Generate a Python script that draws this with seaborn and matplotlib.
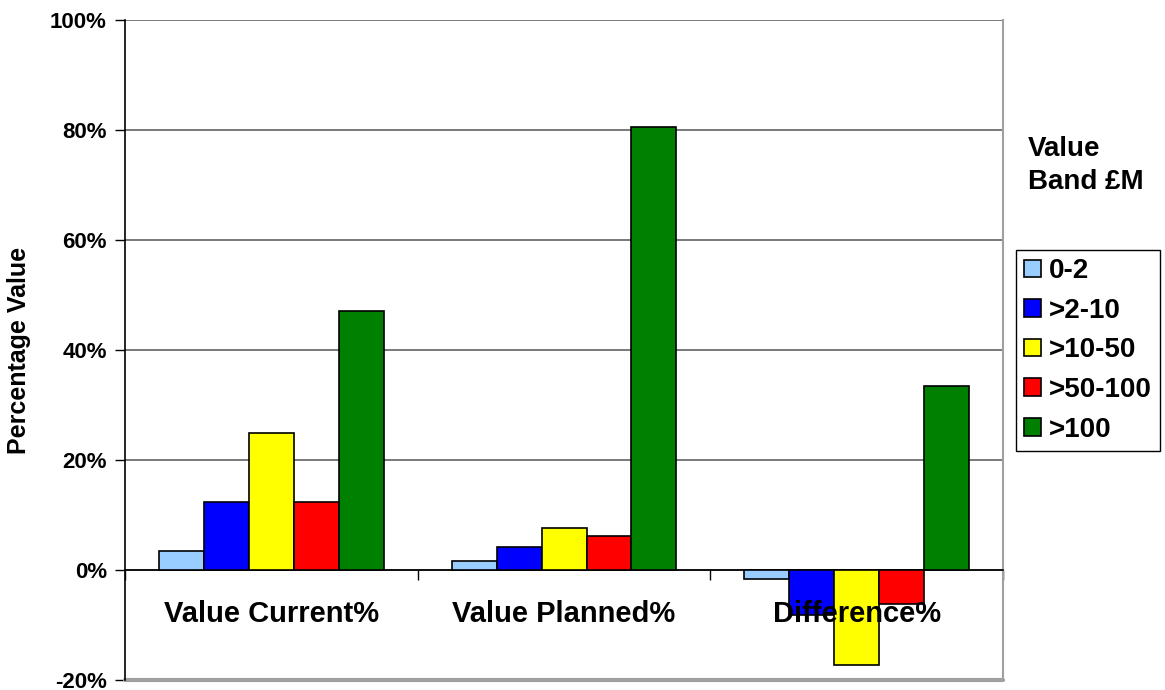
import pandas as pd
import seaborn as sns
import matplotlib.pyplot as plt

# Chart data (percent values).
categories = ["Value Current%", "Value Planned%", "Difference%"]
bands = ["0-2", ">2-10", ">10-50", ">50-100", ">100"]
band_colors = ["#99ccff", "#0000ff", "#ffff00", "#ff0000", "#008000"]
value_current = [3.4, 12.4, 24.9, 12.3, 47.1]
value_planned = [1.6, 4.2, 7.6, 6.2, 80.5]
difference = [-1.7, -8.2, -17.2, -6.1, 33.4]
y_ticks = [-20, 0, 20, 40, 60, 80, 100]

rows = []
for cat, vals in zip(categories, [value_current, value_planned, difference]):
    for band, v in zip(bands, vals):
        rows.append({"Category": cat, "Band": band, "Value": v})
df = pd.DataFrame(rows)

sns.set_theme(style="white", rc={"text.color": "black", "axes.labelcolor": "black",
                                 "xtick.color": "black", "ytick.color": "black"})
plt.rcParams["font.family"] = ["Liberation Sans", "DejaVu Sans"]
plt.rcParams["font.weight"] = "bold"

fig = plt.figure(figsize=(11.65, 6.9), dpi=100)
ax = fig.add_axes([0.1073, 0.0145, 0.861 - 0.1073, 0.971 - 0.0145])

sns.barplot(data=df, x="Category", y="Value", hue="Band", order=categories,
            hue_order=bands, palette=band_colors, width=0.768, gap=0,
            edgecolor="black", linewidth=1.2, saturation=1, ax=ax, zorder=3)

ax.set_ylim(-20, 100)
ax.set_xlim(-0.5, 2.5)
ax.set_yticks(y_ticks)
ax.set_yticklabels([f"{t}%" for t in y_ticks], fontsize=16, fontweight="bold")
ax.yaxis.grid(True, color="#555555", linewidth=1.1, zorder=0)
ax.set_axisbelow(True)

# x axis sits at zero, ticks between the groups
ax.spines["bottom"].set_position(("data", 0))
ax.spines["bottom"].set_color("black")
ax.spines["bottom"].set_linewidth(1.2)
ax.spines["left"].set_color("black")
ax.spines["left"].set_linewidth(1.2)
ax.spines["top"].set_visible(False)
ax.spines["right"].set_color("#a0a0a0")
ax.spines["right"].set_linewidth(1.5)
ax.axhline(-20, color="#a0a0a0", linewidth=3, clip_on=False, zorder=1)
ax.set_xticks([-0.5, 0.5, 1.5, 2.5])
ax.set_xticklabels([])
ax.tick_params(axis="x", direction="out", length=7, width=1, color="black", bottom=True)
ax.tick_params(axis="y", direction="out", length=7, width=1, color="black", left=True, pad=6)

for i, cat in enumerate(categories):
    ax.text(i, -8, cat, ha="center", va="center", fontsize=21, fontweight="bold",
            color="black", zorder=5)

ax.set_xlabel("")
ax.set_ylabel("Percentage Value", fontsize=18, fontweight="bold", labelpad=14)

handles, labels = ax.get_legend_handles_labels()
leg = ax.legend(handles, labels, loc="upper left", bbox_to_anchor=(0.872, 0.638),
                bbox_transform=fig.transFigure, borderaxespad=0, fancybox=False,
                edgecolor="black", framealpha=1, handlelength=0.6,
                handleheight=0.6, handletextpad=0.3, labelspacing=0.49,
                borderpad=0.3, prop={"weight": "bold", "size": 20})
for t in leg.get_texts():
    t.set_color("black")
fig.text(0.882, 0.76, "Value\nBand £M", fontsize=20, fontweight="bold",
         color="black", ha="left", va="center", linespacing=1.35)

plt.savefig("out.png", dpi=100, facecolor="white")
